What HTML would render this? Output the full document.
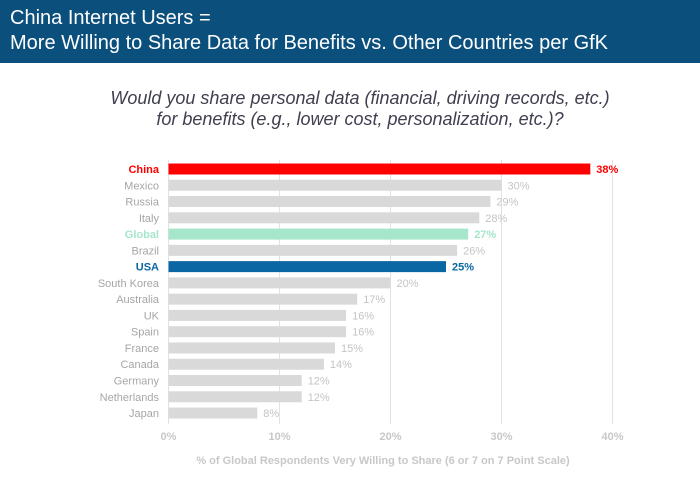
<!DOCTYPE html>
<html><head><meta charset="utf-8"><style>
body{margin:0;width:700px;height:488px;background:#fff;font-family:"Liberation Sans",sans-serif;overflow:hidden}
#hdr{position:absolute;left:0;top:0;width:700px;height:63px;background:#0b4f7d;color:#fff;font-size:20px;line-height:25px;padding:6px 0 0 10px;box-sizing:border-box}
#sub{position:absolute;left:0;width:700px;top:88px;text-align:center;font-style:italic;font-size:18px;line-height:21px;color:#3f3f4f;padding-left:20px;box-sizing:border-box}
</style></head><body>
<div id="hdr">China Internet Users =<br>More Willing to Share Data for Benefits vs. Other Countries per GfK</div>
<div id="sub">Would you share personal data (financial, driving records, etc.)<br>for benefits (e.g., lower cost, personalization, etc.)?</div>
<svg id="chart" width="700" height="488" style="position:absolute;left:0;top:0"></svg>
<script>
const categories=["China","Mexico","Russia","Italy","Global","Brazil","USA","South Korea","Australia","UK","Spain","France","Canada","Germany","Netherlands","Japan"];
const values=[38,30,29,28,27,26,25,20,17,16,16,15,14,12,12,8];
const ticks=[0,10,20,30,40];
const svg=document.getElementById('chart');
const NS='http://www.w3.org/2000/svg';
const x=v=>168.5+v*11.1;
const y=i=>169+i*16.27;
function mk(t,a,txt){const e=document.createElementNS(NS,t);for(const k in a)e.setAttribute(k,a[k]);if(txt!==undefined)e.textContent=txt;svg.appendChild(e);return e;}
ticks.forEach(t=>{
 const g=mk('line',{x1:x(t),x2:x(t),y1:160,y2:424,stroke:'#e2e2e2','stroke-width':1});
 
 
 const l=mk('text',{x:x(t),y:440,'text-anchor':'middle','font-size':11,'font-weight':'bold',fill:'#c8c8c8'},t+'%');
 
 
});
categories.forEach((c,i)=>{
 let col='#d9d9d9',tc='#a6a6a6',lc='#c4c4c4',bold=false;
 if(c==='China'){col='#ff0000';tc=lc='#ff0000';bold=true;}
 if(c==='Global'){col='#a6e6cb';tc=lc='#a6e6cb';bold=true;}
 if(c==='USA'){col='#0b67a4';tc=lc='#0b67a4';bold=true;}
 const b=mk('rect',{x:x(0),y:y(i)-5.5,width:x(values[i])-x(0),height:11,fill:col});
 
 
 const t=mk('text',{x:159,y:y(i)+4,'text-anchor':'end','font-size':11,'font-weight':bold?'bold':'normal',fill:tc},c);
 
 
 const v=mk('text',{x:x(values[i])+6,y:y(i)+4,'font-size':11,'font-weight':bold?'bold':'normal',fill:lc},values[i]+'%');
 
 
});
const at=mk('text',{x:383,y:464,'text-anchor':'middle','font-size':11,'font-weight':'bold',fill:'#c8c8c8'},'% of Global Respondents Very Willing to Share (6 or 7 on 7 Point Scale)');


</script>
</body></html>
